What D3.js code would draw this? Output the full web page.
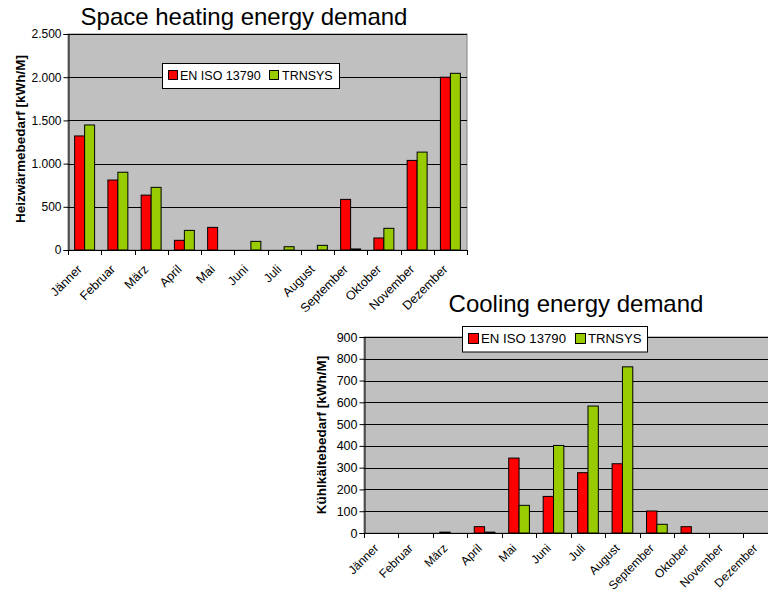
<!DOCTYPE html>
<html>
<head>
<meta charset="utf-8">
<script src="https://cdn.jsdelivr.net/npm/d3@7/dist/d3.min.js"></script>
<style>
  html, body { margin: 0; padding: 0; background: #fff; overflow: hidden; }
  svg { display: block; font-family: Arial, "Liberation Sans", sans-serif; }
</style>
</head>
<body>
<svg id="chart" width="768" height="593"></svg>
<script>
// Monthly categories
const months = ["Jänner", "Februar", "März", "April", "Mai", "Juni", "Juli",
                "August", "September", "Oktober", "November", "Dezember"];

// Series names
const seriesNames = ["EN ISO 13790", "TRNSYS"];

// Space heating demand [kWh/M]
const heatingIso = [1320, 810, 635, 112, 262, 0, 0, 0, 586, 139, 1037, 2000];
const heatingTrnsys = [1447, 900, 725, 227, 0, 100, 38, 54, 12, 251, 1133, 2045];

// Cooling demand [kWh/M]
const coolingIso = [0, 0, 4, 29, 344, 168, 277, 318, 101, 29, 0, 0];
const coolingTrnsys = [0, 0, 0, 4, 127, 402, 583, 763, 40, 0, 0, 0];

// Value axis ticks
const heatingTicks = [0, 500, 1000, 1500, 2000, 2500];
const coolingTicks = [0, 100, 200, 300, 400, 500, 600, 700, 800, 900];

const colors = ["#FF0000", "#99CC00"];

const deLocale = d3.formatLocale({ decimal: ",", thousands: ".", grouping: [3], currency: ["", "€"] });
const fmtThousands = deLocale.format(",");

const svg = d3.select("#chart");

function drawChart(cfg) {
  const g = svg.append("g");
  const x = d3.scaleBand().domain(months).range([cfg.left, cfg.right]);
  const y = d3.scaleLinear().domain([0, cfg.max]).range([cfg.bottom, cfg.top]);

  // Plot area
  g.append("rect")
    .attr("x", cfg.left).attr("y", cfg.top)
    .attr("width", cfg.right - cfg.left).attr("height", cfg.bottom - cfg.top)
    .attr("fill", "#C0C0C0").attr("stroke", "#808080").attr("stroke-width", 1);

  // Horizontal gridlines
  g.append("g").selectAll("line")
    .data(cfg.ticks.filter(d => d > 0))
    .join("line")
    .attr("x1", cfg.left).attr("x2", cfg.right)
    .attr("y1", d => Math.round(y(d)) + 0.5).attr("y2", d => Math.round(y(d)) + 0.5)
    .attr("stroke", "#000").attr("stroke-width", 1);

  // Bars
  const bw = x.bandwidth() * 0.3;
  const series = [cfg.a, cfg.b];
  series.forEach((vals, si) => {
    g.append("g").selectAll("rect")
      .data(months.map((m, i) => ({ m, v: vals[i] })).filter(d => d.v > 0))
      .join("rect")
      .attr("x", d => x(d.m) + x.bandwidth() / 2 - bw + si * bw)
      .attr("y", d => y(d.v))
      .attr("width", bw)
      .attr("height", d => cfg.bottom - y(d.v))
      .attr("fill", colors[si])
      .attr("stroke", "#000").attr("stroke-width", 1);
  });

  // Value axis
  const yAxis = d3.axisLeft(y).tickValues(cfg.ticks).tickSize(5).tickPadding(2)
    .tickFormat(cfg.format);
  const ya = g.append("g").attr("transform", `translate(${cfg.left + 0.5},0)`).call(yAxis);
  ya.select(".domain").attr("stroke", "#000");
  ya.selectAll(".tick line").attr("stroke", "#000");
  ya.selectAll("text").attr("font-size", cfg.tickFont).attr("fill", "#000")
    .attr("font-family", "Arial, 'Liberation Sans', sans-serif");

  // Category axis with ticks between categories
  const xa = g.append("g");
  xa.append("line")
    .attr("x1", cfg.left).attr("x2", cfg.right)
    .attr("y1", cfg.bottom + 0.5).attr("y2", cfg.bottom + 0.5)
    .attr("stroke", "#000");
  xa.selectAll("line.tk")
    .data(months.map(m => x(m)).concat([cfg.right]))
    .join("line").attr("class", "tk")
    .attr("x1", d => Math.round(d) + 0.5).attr("x2", d => Math.round(d) + 0.5)
    .attr("y1", cfg.bottom).attr("y2", cfg.bottom + 5)
    .attr("stroke", "#000");
  xa.selectAll("text")
    .data(months)
    .join("text")
    .attr("transform", d => `translate(${x(d) + x.bandwidth() / 2 - 2},${cfg.bottom + cfg.catOffset}) rotate(-45)`)
    .attr("text-anchor", "end")
    .attr("font-size", cfg.catFont)
    .attr("fill", "#000")
    .text(d => d);

  // Value axis title
  g.append("text")
    .attr("transform", `translate(${cfg.yTitleX},${cfg.yTitleY}) rotate(-90)`)
    .attr("text-anchor", "middle")
    .attr("font-weight", "bold")
    .attr("font-size", cfg.yTitleFont)
    .attr("fill", "#000")
    .text(cfg.yTitle);

  // Chart title
  g.append("text")
    .attr("x", cfg.titleX).attr("y", cfg.titleY)
    .attr("text-anchor", "middle")
    .attr("font-size", 24)
    .attr("fill", "#000")
    .text(cfg.title);

  // Legend
  const lg = g.append("g");
  lg.append("rect")
    .attr("x", cfg.leg.x + 0.5).attr("y", cfg.leg.y + 0.5)
    .attr("width", cfg.leg.w).attr("height", cfg.leg.h)
    .attr("fill", "#fff").attr("stroke", "#000");
  seriesNames.forEach((name, i) => {
    lg.append("rect")
      .attr("x", cfg.leg.sx[i] + 0.5).attr("y", cfg.leg.sy + 0.5)
      .attr("width", cfg.leg.s).attr("height", cfg.leg.s)
      .attr("fill", colors[i]).attr("stroke", "#000");
    lg.append("text")
      .attr("x", cfg.leg.tx[i]).attr("y", cfg.leg.ty)
      .attr("font-size", cfg.leg.font)
      .attr("fill", "#000")
      .text(name);
  });
}

drawChart({
  left: 68, right: 467, top: 34, bottom: 250, max: 2500,
  ticks: heatingTicks, format: fmtThousands,
  a: heatingIso, b: heatingTrnsys,
  tickFont: 12, catFont: 12.5, catOffset: 20,
  yTitle: "Heizwärmebedarf [kWh/M]", yTitleX: 25, yTitleY: 139, yTitleFont: 13.5,
  title: "Space heating energy demand", titleX: 244, titleY: 25,
  leg: { x: 162, y: 63, w: 177, h: 25, s: 9, sx: [168, 269], sy: 70, tx: [180, 282], ty: 79.5, font: 12.5 }
});

drawChart({
  left: 364, right: 777.5, top: 337, bottom: 533, max: 900,
  ticks: coolingTicks, format: d3.format("d"),
  a: coolingIso, b: coolingTrnsys,
  tickFont: 12.5, catFont: 12, catOffset: 16,
  yTitle: "Kühlkältebedarf [kWh/M]", yTitleX: 325.5, yTitleY: 435, yTitleFont: 13.5,
  title: "Cooling energy demand", titleX: 576, titleY: 312,
  leg: { x: 462, y: 326, w: 185, h: 25.5, s: 10, sx: [468, 575], sy: 333, tx: [481, 588], ty: 342.5, font: 13.2 }
});
</script>
</body>
</html>
